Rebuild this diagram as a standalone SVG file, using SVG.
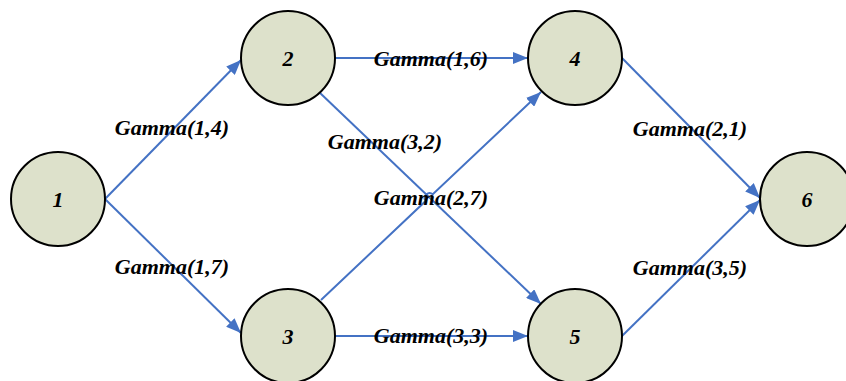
<svg xmlns="http://www.w3.org/2000/svg" width="846" height="381" viewBox="0 0 846 381">
<style>
.node{fill:#DDE1CB;stroke:#000;stroke-width:2}
.nl{font-family:"Liberation Serif",serif;font-weight:bold;font-style:italic;font-size:22px;text-anchor:middle;fill:#000}
.el{font-family:"Liberation Serif",serif;font-weight:bold;font-style:italic;font-size:22px;text-anchor:middle;fill:#000}
.edge{stroke:#4472C4;stroke-width:2;fill:none;marker-end:url(#arr)}
</style>
<defs>
<marker id="arr" markerUnits="userSpaceOnUse" markerWidth="16" markerHeight="12" refX="15" refY="6" orient="auto">
<path d="M0,0 L15,6 L0,12 Z" fill="#4472C4"/>
</marker>
</defs>
<rect width="846" height="381" fill="#fff"/>
<g id="connectors">
<path class="edge" d="M105,199 L241,60"/>
<path class="edge" d="M105,199 L241,333"/>
<path class="edge" d="M335,58 L528,58"/>
<path class="edge" d="M335,336 L528,336"/>
<path class="edge" d="M319,92 L541,304"/>
<path class="edge" d="M321,300 L425.6,201.1 A5 5 0 0 1 432.8,194.3 L541,92"/>
<path class="edge" d="M622,58 L760,198"/>
<path class="edge" d="M622,336 L760,200"/>
</g>
<g id="edge-labels">
<text class="el" x="172" y="135">Gamma(1,4)</text>
<text class="el" x="172" y="274">Gamma(1,7)</text>
<text class="el" x="431" y="66">Gamma(1,6)</text>
<text class="el" x="385" y="149">Gamma(3,2)</text>
<text class="el" x="431" y="205">Gamma(2,7)</text>
<text class="el" x="431" y="343">Gamma(3,3)</text>
<text class="el" x="690" y="136">Gamma(2,1)</text>
<text class="el" x="690" y="275">Gamma(3,5)</text>
</g>
<g id="node1"><circle class="node" cx="58" cy="199" r="47"/><text class="nl" x="58" y="207">1</text></g>
<g id="node2"><circle class="node" cx="288" cy="58" r="47"/><text class="nl" x="288" y="66">2</text></g>
<g id="node3"><circle class="node" cx="288" cy="336" r="47"/><text class="nl" x="288" y="344">3</text></g>
<g id="node4"><circle class="node" cx="575" cy="58" r="47"/><text class="nl" x="575" y="66">4</text></g>
<g id="node5"><circle class="node" cx="575" cy="336" r="47"/><text class="nl" x="575" y="344">5</text></g>
<g id="node6"><circle class="node" cx="807" cy="199" r="47"/><text class="nl" x="807" y="207">6</text></g>
</svg>
